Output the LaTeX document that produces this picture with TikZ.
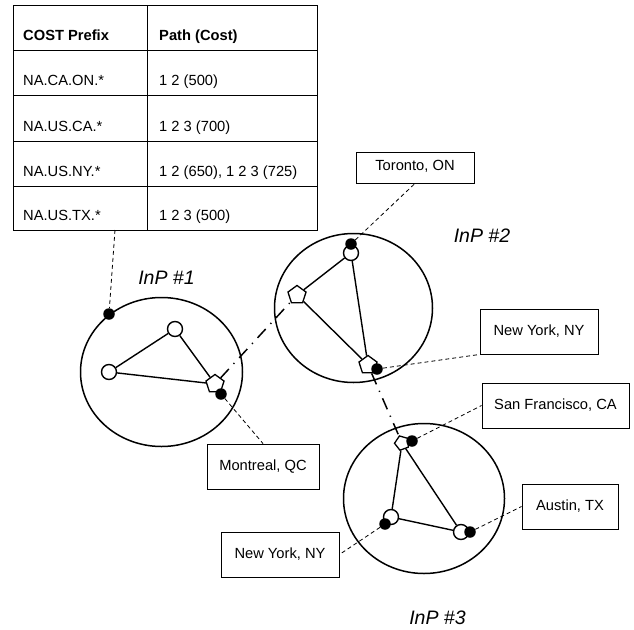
\documentclass[tikz,border=0pt]{standalone}
\usepackage{fontspec}
\setmainfont{Liberation Sans}
\usetikzlibrary{shapes.geometric}
\begin{document}
\begin{tikzpicture}[x=1pt,y=-1pt,
  txt/.style={font=\fontsize{14.7}{17}\selectfont},
  tabline/.style={line width=0.9pt},
  cell/.style={txt, anchor=base west, inner sep=0pt},
  cellb/.style={cell, font=\fontsize{14.7}{17}\selectfont\bfseries},
  dom/.style={draw, ellipse, line width=1.5pt, inner sep=0pt},
  rnode/.style={draw, circle, fill=white, line width=1.4pt, minimum size=15, inner sep=0pt},
  pnode/.style={draw, regular polygon, regular polygon sides=5, fill=white, line width=1.3pt, minimum size=19, inner sep=0pt},
  bdot/.style={circle, fill=black, minimum size=11.5, inner sep=0pt},
  edge/.style={line width=1.4pt},
  lead/.style={line width=0.8pt, dash pattern=on 4pt off 3pt},
  link/.style={line width=1.5pt, dash pattern=on 12pt off 7pt on 1.2pt off 7pt},
  lbox/.style={draw, line width=0.9pt, txt, inner sep=0pt},
  inp/.style={font=\fontsize{19.5}{22}\selectfont\itshape}
]
\useasboundingbox (0,0) rectangle (634,629);

% ---- table ----
\draw[tabline] (13,5) rectangle (317,230);
\draw[tabline] (147.7,5) -- (147.7,230);
\foreach \yy in {50.7,95.7,141,186} \draw[tabline] (13,\yy) -- (317,\yy);
\node[cellb] (h1) at (23,40.5) {COST Prefix};
\node[cellb] (h2) at (159,40.5) {Path (Cost)};
\node[cell] (a1) at (23,85.8) {NA.CA.ON.*};
\node[cell] (b1) at (159,85.8) {1 2 (500)};
\node[cell] (a2) at (23,131.2) {NA.US.CA.*};
\node[cell] (b2) at (159,131.2) {1 2 3 (700)};
\node[cell] (a3) at (23,176.3) {NA.US.NY.*};
\node[cell] (b3) at (159,176.3) {1 2 (650), 1 2 3 (725)};
\node[cell] (a4) at (23,220.5) {NA.US.TX.*};
\node[cell] (b4) at (159,220.5) {1 2 3 (500)};
\coordinate (tabbot) at (115,230);

% ---- domains ----
\node[dom, minimum width=162, minimum height=149] (D1) at (161.5,372) {};
\node[dom, minimum width=158, minimum height=149] (D2) at (353.5,308) {};
\node[dom, minimum width=161, minimum height=150] (D3) at (424,498.5) {};

\node[inp] (L1) at (166.5,278) {InP \#1};
\node[inp] (L2) at (482,236) {InP \#2};
\node[inp] (L3) at (437.5,618) {InP \#3};

% ---- routers ----
\node[rnode] (c1a) at (175,329) {};
\node[rnode] (c1b) at (109,372) {};
\node[pnode] (p1) at (215,384) {};

\node[rnode] (c2) at (351,253) {};
\node[pnode] (p2a) at (297,295) {};
\node[pnode] (p2b) at (368,365) {};

\node[pnode, minimum size=15, rotate=20] (p3) at (402,443) {};
\node[rnode] (c3a) at (391,517) {};
\node[rnode] (c3b) at (461,532) {};

\draw[edge] (c1a) -- (c1b);
\draw[edge] (c1b) -- (p1);
\draw[edge] (c1a) -- (p1);
\draw[edge] (c2) -- (p2a);
\draw[edge] (c2) -- (p2b);
\draw[edge] (p2a) -- (p2b);
\draw[edge] (p3) -- (c3a);
\draw[edge] (p3) -- (c3b);
\draw[edge] (c3a) -- (c3b);

% ---- inter-domain links ----
\draw[link] (p1) -- (p2a);
\draw[link] (p2b) -- (p3);

% ---- attachment dots ----
\node[bdot] (d1a) at (109,314) {};
\node[bdot] (d1b) at (221,394) {};
\node[bdot] (d2a) at (351,244) {};
\node[bdot] (d2b) at (377,369) {};
\node[bdot] (d3a) at (412,441) {};
\node[bdot] (d3b) at (385,524) {};
\node[bdot] (d3c) at (470,532) {};

% ---- location boxes ----
\node[lbox, minimum width=112, minimum height=45] (mont) at (263,466.5) {Montreal, QC};
\node[lbox, minimum width=118, minimum height=31] (tor) at (415,167.5) {Toronto, ON\strut};
\node[lbox, minimum width=118, minimum height=45] (nyt) at (539,331.5) {New York, NY};
\node[lbox, minimum width=147, minimum height=45] (sf) at (555.5,405.5) {San Francisco, CA};
\node[lbox, minimum width=96, minimum height=45] (aus) at (570,506.5) {Austin, TX};
\node[lbox, minimum width=118, minimum height=45] (nyb) at (280,554.5) {New York, NY};

% ---- leaders ----
\draw[lead] (tabbot) -- (d1a);
\draw[lead] (d1b) -- (mont.north);
\draw[lead] (d2a) -- (tor.south);
\draw[lead] (d2b) -- (nyt.south west);
\draw[lead] (d3a) -- (sf.west);
\draw[lead] (d3c) -- (aus.west);
\draw[lead] (d3b) -- (nyb.east);
\end{tikzpicture}
\end{document}
